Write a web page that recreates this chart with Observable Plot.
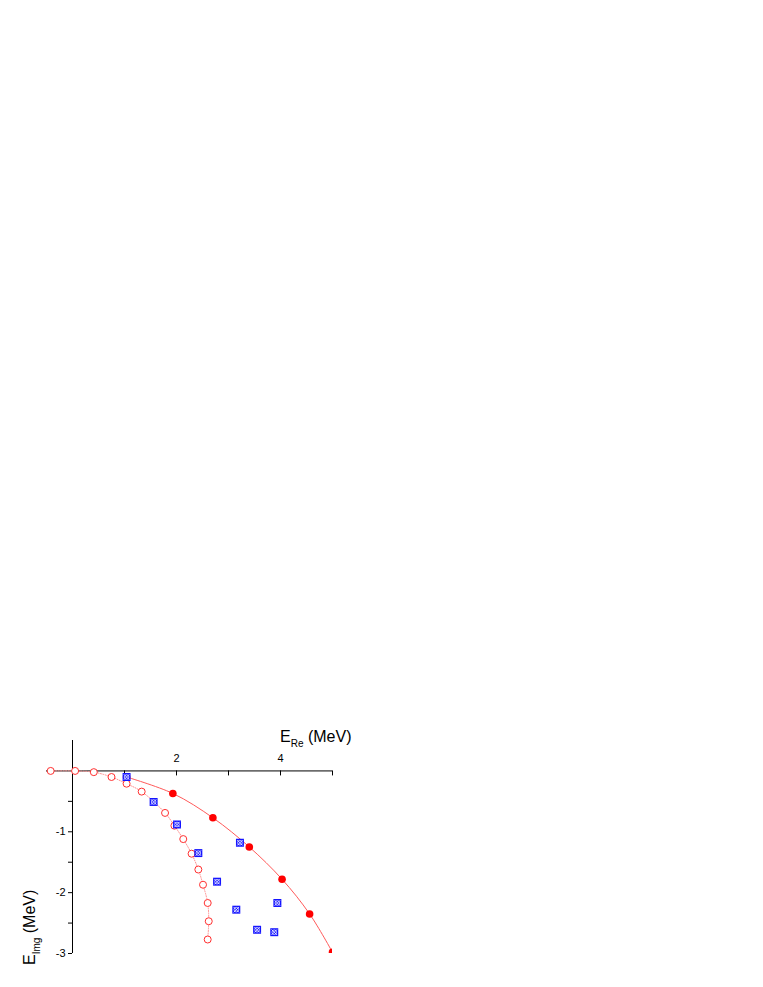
<!DOCTYPE html>
<html><head><meta charset="utf-8">
<script src="https://cdn.jsdelivr.net/npm/d3@7"></script>
<script src="https://cdn.jsdelivr.net/npm/@observablehq/plot@0.6"></script>
<style>body{margin:0;background:#fff} svg{display:block}</style>
</head><body><div id="chart"></div>
<script>
// Open circles (dotted curve)
const openRe = [-0.42, 0.05, 0.41, 0.75, 1.04, 1.33, 1.78, 1.96, 2.13, 2.29, 2.42, 2.51, 2.60, 2.62, 2.60];
const openIm = [0, 0, -0.02, -0.10, -0.21, -0.34, -0.69, -0.90, -1.12, -1.36, -1.62, -1.87, -2.17, -2.47, -2.77];
// Filled circles (solid curve)
const filledRe = [1.04, 1.93, 2.70, 3.40, 4.03, 4.56, 5.0];
const filledIm = [-0.10, -0.37, -0.77, -1.25, -1.78, -2.35, -2.98];
// Blue crossed squares
const squareRe = [1.04, 1.56, 2.01, 2.42, 2.78, 3.22, 3.15, 3.55, 3.88, 3.94];
const squareIm = [-0.10, -0.51, -0.88, -1.35, -1.82, -1.18, -2.28, -2.61, -2.65, -2.17];
// Axis ticks and labels
const xTicks = [1, 2, 3, 4, 5];
const xLabels = [2, 4];
const yTicks = [-0.5, -1, -1.5, -2, -2.5, -3];
const yLabels = [-1, -2, -3];

const chart = Plot.plot({
  width: 763, height: 987,
  marginLeft: 46, marginRight: 431, marginTop: 740, marginBottom: 34,
  x: {domain: [-0.5, 5], axis: null},
  y: {domain: [-3, 0.5], axis: null},
  style: {fontFamily: "'Liberation Sans', Arial, sans-serif", background: "white", color: "black"},
  marks: [
    Plot.ruleY([0], {stroke: "black", strokeWidth: 1}),
    Plot.ruleX([0], {stroke: "black", strokeWidth: 1}),
    Plot.ruleX(xTicks, {x: d => d, y1: 0, y2: 0, insetBottom: -5, stroke: "black"}),
    Plot.ruleY(yTicks, {y: d => d, x1: 0, x2: 0, insetLeft: -4, stroke: "black"}),
    Plot.text(xLabels, {x: d => d, y: 0, text: d => String(d), dy: -12, fontSize: 11, fill: "black"}),
    Plot.text(yLabels, {x: 0, y: d => d, text: d => String(d), textAnchor: "end", dx: -7, fontSize: 11, fill: "black"}),
    Plot.line(openRe, {x: openRe, y: openIm, curve: "catmull-rom", stroke: "#ff9090", strokeWidth: 1, strokeDasharray: "1,1.5", clip: true}),
    Plot.line(filledRe, {x: filledRe, y: filledIm, curve: "catmull-rom", stroke: "#ff5a5a", strokeWidth: 1, clip: true}),
    Plot.dot(filledRe, {x: filledRe, y: filledIm, r: 3.8, fill: "#ff0000", clip: true}),
    Plot.dot(openRe, {x: openRe, y: openIm, r: 3.5, fill: "white", stroke: "#ff3030", strokeWidth: 1, clip: true}),
    Plot.dot(squareRe, {x: squareRe, y: squareIm, symbol: "square", r: 4.5, fill: "#1414ff"}),
    Plot.dot(squareRe, {x: squareRe, y: squareIm, symbol: "times", r: 2.6, stroke: "white", strokeWidth: 0.8}),
    Plot.dot(squareRe, {x: squareRe, y: squareIm, symbol: "circle", r: 2.3, fill: "none", stroke: "white", strokeWidth: 0.7})
  ]
});
document.getElementById("chart").appendChild(chart);

const svg = d3.select(chart);
const xs = chart.scale("x"), ys = chart.scale("y");
const ff = "'Liberation Sans', Arial, sans-serif";
// x-axis title
const tx = svg.append("text").attr("x", xs.apply(4)).attr("y", ys.apply(0.5) + 2)
  .attr("text-anchor", "start")
  .attr("font-family", ff).attr("font-size", 16).attr("fill", "black");
tx.append("tspan").text("E");
tx.append("tspan").attr("font-size", 10).attr("dy", 5).text("Re");
tx.append("tspan").attr("dy", -5).text(" (MeV)");
// y-axis title
const ty = svg.append("text").attr("transform", `translate(35,${ys.apply(-3) + 12}) rotate(-90)`)
  .attr("text-anchor", "start")
  .attr("font-family", ff).attr("font-size", 16).attr("fill", "black");
ty.append("tspan").text("E");
ty.append("tspan").attr("font-size", 10).attr("dy", 5).text("Img");
ty.append("tspan").attr("dy", -5).text(" (MeV)");
</script></body></html>
